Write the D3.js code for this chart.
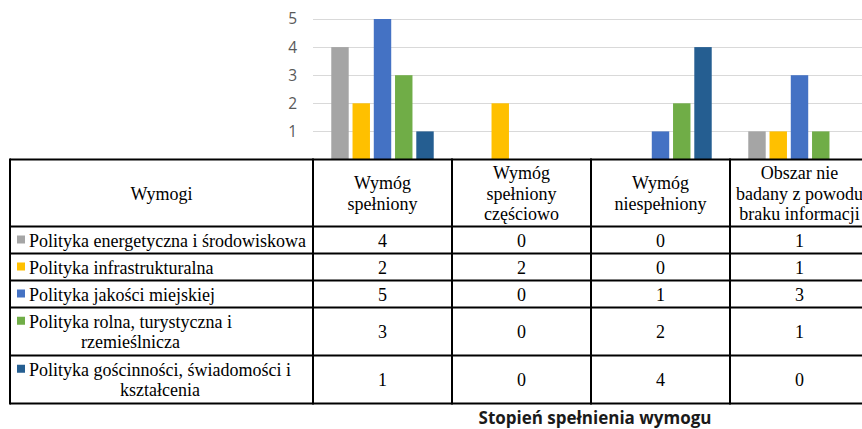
<!DOCTYPE html>
<html>
<head>
<meta charset="utf-8">
<script src="https://cdn.jsdelivr.net/npm/d3@7"></script>
<style>
  html, body { margin: 0; padding: 0; background: #fff; }
  svg { display: block; }
</style>
</head>
<body>
<svg id="chart" width="862" height="429"></svg>
<script>
// Categories (columns of the data table)
const categories = ["Wymóg spełniony", "Wymóg spełniony częściowo", "Wymóg niespełniony", "Obszar nie badany z powodu braku informacji"];
const categoryLines = [["Wymóg", "spełniony"], ["Wymóg", "spełniony", "częściowo"], ["Wymóg", "niespełniony"], ["Obszar nie", "badany z powodu", "braku informacji"]];

// Series (rows of the data table)
const seriesNames = [
  "Polityka energetyczna i środowiskowa",
  "Polityka infrastrukturalna",
  "Polityka jakości miejskiej",
  "Polityka rolna, turystyczna i rzemieślnicza",
  "Polityka gościnności, świadomości i kształcenia"
];
const seriesLines = [
  ["Polityka energetyczna i środowiskowa"],
  ["Polityka infrastrukturalna"],
  ["Polityka jakości miejskiej"],
  ["Polityka rolna, turystyczna i", "rzemieślnicza"],
  ["Polityka gościnności, świadomości i", "kształcenia"]
];
const seriesColors = ["#A5A5A5", "#FFC000", "#4472C4", "#70AD47", "#255E91"];

// Values per series, in category order
const energetyczna = [4, 0, 0, 1];
const infrastrukturalna = [2, 2, 0, 1];
const jakosciMiejskiej = [5, 0, 1, 3];
const rolna = [3, 0, 2, 1];
const goscinnosci = [1, 0, 4, 0];
const seriesValues = [energetyczna, infrastrukturalna, jakosciMiejskiej, rolna, goscinnosci];

const yTicks = [1, 2, 3, 4, 5];
const axisTitle = "Stopień spełnienia wymogu";

// ---- layout ----
const svg = d3.select("#chart");
const tableLeft = 10;
const plotLeft = 313;
const colWidth = 139;
const plotRight = plotLeft + colWidth * categories.length;
const baseY = 159.5;
const topY = 19;

const x0 = d3.scaleBand().domain(categories).range([plotLeft, plotRight]);
const x1 = d3.scaleBand().domain(seriesNames).range([0, x0.bandwidth()])
  .paddingInner(0.18).paddingOuter(0.86);
const y = d3.scaleLinear().domain([0, 5]).range([baseY, topY]);

// gridlines
const grid = svg.append("g");
grid.selectAll("line").data(yTicks).join("line")
  .attr("x1", plotLeft).attr("x2", 862)
  .attr("y1", d => Math.round(y(d)) + 0.5).attr("y2", d => Math.round(y(d)) + 0.5)
  .attr("stroke", "#d9d9d9").attr("stroke-width", 1.2);

// y axis labels
const yAxis = d3.axisLeft(y).tickValues(yTicks).tickFormat(d3.format("d")).tickSize(0).tickPadding(0);
const ya = svg.append("g").attr("transform", `translate(297,0)`).call(yAxis);
ya.select(".domain").remove();
ya.selectAll("text")
  .attr("font-family", "'Open Sans', sans-serif")
  .attr("font-size", 15.5)
  .attr("fill", "#595959");

// bars
const flat = [];
seriesNames.forEach((s, si) => {
  categories.forEach((c, ci) => flat.push({ s, c, v: seriesValues[si][ci], color: seriesColors[si] }));
});
svg.append("g").selectAll("rect").data(flat.filter(d => d.v > 0)).join("rect")
  .attr("x", d => x0(d.c) + x1(d.s))
  .attr("y", d => y(d.v))
  .attr("width", x1.bandwidth())
  .attr("height", d => y(0) - y(d.v))
  .attr("fill", d => d.color);

// ---- data table ----
const headerH = 67;
const rowHeights = [27, 27, 27, 48, 48];
const rowTops = [baseY + headerH];
rowHeights.forEach((h, i) => rowTops.push(rowTops[i] + h));
const tableBottom = rowTops[rowTops.length - 1];
const colEdges = [tableLeft].concat(categories.map(c => x0(c))).concat([plotRight]);

const serif = "'Liberation Serif', 'Times New Roman', serif";
const fs = 18;
const lh = 20.5;
const tbl = svg.append("g");

function multiline(g, lines, cx, cy, anchor) {
  const t = g.append("text")
    .attr("font-family", serif).attr("font-size", fs).attr("fill", "#000")
    .attr("text-anchor", anchor);
  lines.forEach((ln, i) => {
    t.append("tspan").attr("x", cx)
      .attr("y", cy + 6.5 - (lines.length - 1) / 2 * lh + i * lh)
      .text(ln);
  });
  return t;
}

// header
multiline(tbl, ["Wymogi"], (tableLeft + plotLeft) / 2, baseY + headerH / 2, "middle");
categories.forEach((c, i) => {
  multiline(tbl, categoryLines[i], x0(c) + x0.bandwidth() / 2, baseY + headerH / 2, "middle");
});

// series rows
seriesNames.forEach((s, si) => {
  const top = rowTops[si], h = rowHeights[si];
  const cy = top + h / 2;
  const lines = seriesLines[si];
  const firstBase = cy + 6.5 - (lines.length - 1) / 2 * lh;
  tbl.append("rect")
    .attr("x", 17).attr("y", firstBase - 11)
    .attr("width", 8).attr("height", 8)
    .attr("fill", seriesColors[si]);
  const textX = 29;
  const t = tbl.append("text")
    .attr("font-family", serif).attr("font-size", fs).attr("fill", "#000");
  const spans = lines.map((ln, i) => t.append("tspan")
    .attr("y", firstBase + i * lh).text(ln));
  const widths = spans.map(sp => sp.node().getComputedTextLength());
  const maxW = d3.max(widths);
  spans.forEach((sp, i) => sp.attr("x", textX + (maxW - widths[i]) / 2));

  categories.forEach((c, ci) => {
    tbl.append("text")
      .attr("font-family", serif).attr("font-size", fs).attr("fill", "#000")
      .attr("text-anchor", "middle")
      .attr("x", x0(c) + x0.bandwidth() / 2)
      .attr("y", cy + 6.5)
      .text(seriesValues[si][ci]);
  });
});

// grid lines of the table
const hLines = [baseY].concat(rowTops);
tbl.selectAll("line.h").data(hLines).join("line").attr("class", "h")
  .attr("x1", tableLeft).attr("x2", plotRight)
  .attr("y1", d => d).attr("y2", d => d)
  .attr("stroke", "#000").attr("stroke-width", 2);
tbl.selectAll("line.v").data(colEdges).join("line").attr("class", "v")
  .attr("x1", d => d).attr("x2", d => d)
  .attr("y1", baseY - 1).attr("y2", tableBottom + 1)
  .attr("stroke", "#000").attr("stroke-width", 2);

// axis title
svg.append("text")
  .attr("x", 595).attr("y", 424)
  .attr("text-anchor", "middle")
  .attr("font-family", "'Open Sans', sans-serif")
  .attr("font-weight", "bold")
  .attr("font-size", 17)
  .attr("fill", "#1a1a1a")
  .text(axisTitle);
</script>
</body>
</html>
